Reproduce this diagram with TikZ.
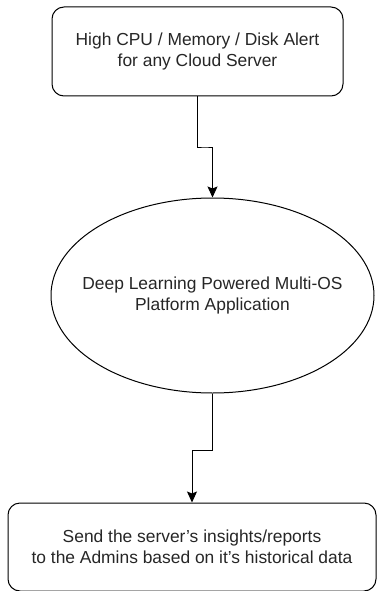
\documentclass[tikz,border=0pt]{standalone}
\usepackage{fontspec}
\setmainfont{Liberation Sans}
\usetikzlibrary{positioning,shapes.geometric,arrows.meta,calc}

\begin{document}
\begin{tikzpicture}[
x=1pt,
y=-1pt,
stepbox/.style={
  draw,
  rectangle,
  rounded corners=12pt,
  line width=1pt,
  align=center,
  text=black!85,
  font=\fontsize{17.4}{21}\selectfont,
  inner sep=0pt
  },
appnode/.style={
  draw,
  ellipse,
  line width=1pt,
  align=center,
  text=black!85,
  font=\fontsize{17.4}{21}\selectfont,
  inner xsep=-20pt,
  inner ysep=0pt
  },
flow/.style={
  line width=1pt,
  -{Stealth[length=11pt,width=10pt,inset=2pt]}
  }
]
\useasboundingbox (0,0) rectangle (378,591);

\node[stepbox, minimum width=291pt, minimum height=89pt] at (197.5,51.5)
  (alert) {High CPU / Memory / Disk Alert\\for any Cloud Server};
\node[appnode, minimum width=323pt, minimum height=195pt] at (212.5,295.5)
  (app) {Deep Learning Powered Multi-OS\\Platform Application};
\node[stepbox, minimum width=368pt, minimum height=88pt] at (192,547)
  (report) {Send the server's insights/reports\\to the Admins based on it's historical data};

\draw[flow] (alert.south) |- ($(alert.south)!0.5!(app.north)$) -| (app.north);
\draw[flow] (app.south) |- ($(app.south)!0.52!(report.north)$) -| (report.north);
\end{tikzpicture}
\end{document}
